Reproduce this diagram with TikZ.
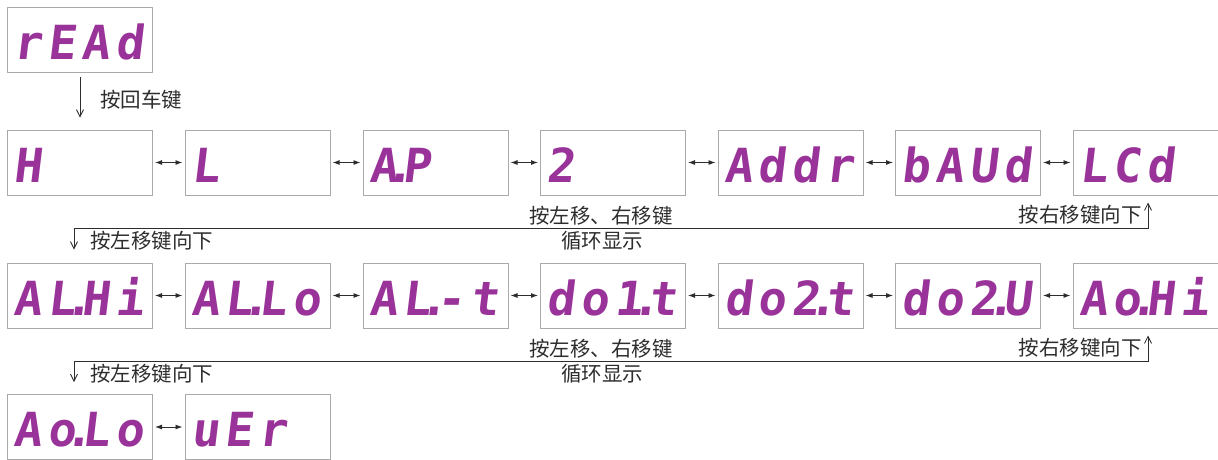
\documentclass[tikz,border=0pt]{standalone}
\usepackage{fontspec}
\usepackage{xcolor}
\usepackage{tikz}
\usetikzlibrary{arrows.meta}
\newfontfamily\segfont{DejaVu Sans Mono}[FakeSlant=0.12,LetterSpace=12]
\newfontfamily\cjkfont{Noto Sans CJK SC}
\newcommand\segdot{\makebox[5.5pt][l]{\kern-11.5pt.}}
\definecolor{segpurple}{RGB}{153,51,153}
\definecolor{boxgray}{RGB}{170,170,170}
\definecolor{linegray}{RGB}{45,45,45}

\begin{document}
\begin{tikzpicture}[x=1pt, y=-1pt,
    dispbox/.style={
        rectangle,
        minimum width=145pt,   minimum height=65pt,
        text width=133pt,      inner xsep=6pt, inner ysep=0pt,
        text height=39pt,      text depth=0pt,
        align=left,
        draw=boxgray,
        line width=1pt,
        text=segpurple,
        font=\segfont\bfseries\fontsize{47}{47}\selectfont
    },
    note/.style={
        inner sep=0pt,
        text=linegray,
        font=\cjkfont\fontsize{20.5}{22}\selectfont
    },
    swaparrow/.style={line width=0.9pt, draw=linegray, {Latex[length=7pt,width=5pt]}-{Latex[length=7pt,width=5pt]}},
    movearrow/.style={line width=0.8pt, draw=linegray}
]

\useasboundingbox (0,0) rectangle (1218,459);

\node[dispbox] (read) at (80,40) {rEAd};

\node[dispbox] (h)    at (80,   162.5) {H};
\node[dispbox] (l)    at (257.5,162.5) {L};
\node[dispbox] (ap)   at (435.5,162.5) {A\segdot P};
\node[dispbox] (two)  at (613,  162.5) {2};
\node[dispbox] (addr) at (790.5,162.5) {Addr};
\node[dispbox] (baud) at (968,  162.5) {bAUd};
\node[dispbox] (lcd)  at (1145.5,162.5) {LCd};

\draw[swaparrow] ([xshift=2pt]h.east)    -- ([xshift=-2pt]l.west);
\draw[swaparrow] ([xshift=2pt]l.east)    -- ([xshift=-2pt]ap.west);
\draw[swaparrow] ([xshift=2pt]ap.east)   -- ([xshift=-2pt]two.west);
\draw[swaparrow] ([xshift=2pt]two.east)  -- ([xshift=-2pt]addr.west);
\draw[swaparrow] ([xshift=2pt]addr.east) -- ([xshift=-2pt]baud.west);
\draw[swaparrow] ([xshift=2pt]baud.east) -- ([xshift=-2pt]lcd.west);

\node[dispbox] (alhi)   at (80,   295.5) {AL\segdot Hi};
\node[dispbox] (allo)   at (257.5,295.5) {AL\segdot Lo};
\node[dispbox] (alt)    at (435.5,295.5) {AL\segdot -t};
\node[dispbox] (doone)  at (613,  295.5) {do1\segdot t};
\node[dispbox] (dotwot) at (790.5,295.5) {do2\segdot t};
\node[dispbox] (dotwou) at (968,  295.5) {do2\segdot U};
\node[dispbox] (aohi)   at (1145.5,295.5) {Ao\segdot Hi};

\draw[swaparrow] ([xshift=2pt]alhi.east)   -- ([xshift=-2pt]allo.west);
\draw[swaparrow] ([xshift=2pt]allo.east)   -- ([xshift=-2pt]alt.west);
\draw[swaparrow] ([xshift=2pt]alt.east)    -- ([xshift=-2pt]doone.west);
\draw[swaparrow] ([xshift=2pt]doone.east)  -- ([xshift=-2pt]dotwot.west);
\draw[swaparrow] ([xshift=2pt]dotwot.east) -- ([xshift=-2pt]dotwou.west);
\draw[swaparrow] ([xshift=2pt]dotwou.east) -- ([xshift=-2pt]aohi.west);

\node[dispbox] (aolo) at (80,   427) {Ao\segdot Lo};
\node[dispbox] (ver)  at (257.5,427) {uEr};

\draw[swaparrow] ([xshift=2pt]aolo.east) -- ([xshift=-2pt]ver.west);

\draw[movearrow, -{Straight Barb[length=7pt,width=7pt]}] ([yshift=-4pt]read.south) -- ([yshift=12pt]h.north);
\node[note, anchor=west] (enterkey) at (100,100) {按回车键};

\coordinate (turnone) at (74,228);
\draw[movearrow, {Straight Barb[length=7pt,width=7pt]}-{Straight Barb[length=7pt,width=7pt]}]
    ([xshift=2.5pt,yshift=-7pt]lcd.south) |- (turnone) -- ([xshift=-6pt,yshift=13pt]alhi.north);
\node[note, anchor=east] (rightdownone) at (1142,215) {按右移键向下};
\node[note, anchor=west] (leftdownone)  at (90,241)   {按左移键向下};
\node[note] (cycleonea) at (601,216) {按左移、右移键};
\node[note] (cycleoneb) at (602,241) {循环显示};

\coordinate (turntwo) at (74,361);
\draw[movearrow, {Straight Barb[length=7pt,width=7pt]}-{Straight Barb[length=7pt,width=7pt]}]
    ([xshift=2.5pt,yshift=-7pt]aohi.south) |- (turntwo) -- ([xshift=-6pt,yshift=12pt]aolo.north);
\node[note, anchor=east] (rightdowntwo) at (1142,348) {按右移键向下};
\node[note, anchor=west] (leftdowntwo)  at (90,374)   {按左移键向下};
\node[note] (cycletwoa) at (601,349) {按左移、右移键};
\node[note] (cycletwob) at (602,374) {循环显示};

\end{tikzpicture}
\end{document}
